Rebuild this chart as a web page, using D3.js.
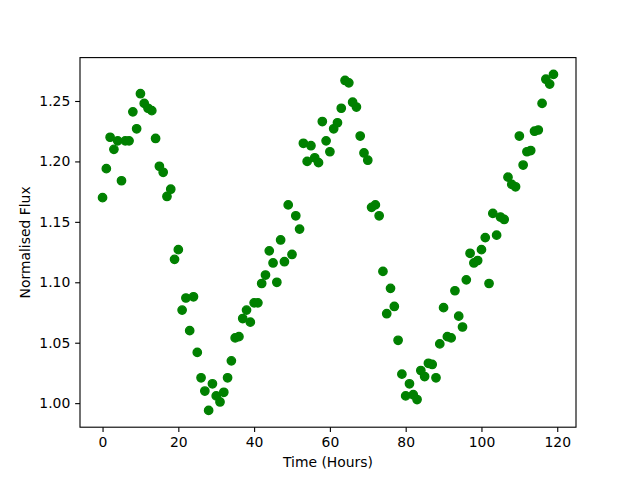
<!DOCTYPE html>
<meta charset="utf-8">
<script src="https://d3js.org/d3.v7.min.js"></script>
<style>
  body { margin: 0; background: #fff; }
  text { font-family: "DejaVu Sans", sans-serif; }
</style>
<div id="chart"></div>
<script>
// flux readings, one per hour (0..119)
const flux = [
  1.170, 1.194, 1.220, 1.210, 1.217, 1.184, 1.217, 1.217, 1.241, 1.227,
  1.256, 1.248, 1.244, 1.242, 1.219, 1.196, 1.191, 1.171, 1.177, 1.119,
  1.127, 1.077, 1.087, 1.060, 1.088, 1.042, 1.021, 1.010, 0.994, 1.016,
  1.006, 1.001, 1.009, 1.021, 1.035, 1.054, 1.055, 1.070, 1.077, 1.067,
  1.083, 1.083, 1.099, 1.106, 1.126, 1.116, 1.100, 1.135, 1.117, 1.164,
  1.123, 1.155, 1.144, 1.215, 1.200, 1.213, 1.203, 1.199, 1.233, 1.217,
  1.208, 1.227, 1.232, 1.244, 1.267, 1.265, 1.249, 1.245, 1.221, 1.207,
  1.201, 1.162, 1.164, 1.155, 1.109, 1.074, 1.095, 1.080, 1.052, 1.024,
  1.006, 1.016, 1.007, 1.003, 1.027, 1.022, 1.033, 1.032, 1.021, 1.049,
  1.079, 1.055, 1.054, 1.093, 1.072, 1.063, 1.102, 1.124, 1.116, 1.118,
  1.127, 1.137, 1.099, 1.157, 1.139, 1.154, 1.152, 1.187, 1.181, 1.179,
  1.221, 1.197, 1.208, 1.209, 1.225, 1.226, 1.248, 1.268, 1.264, 1.272
];
const hours = flux.map((d, i) => i);
const xTicks = [0, 20, 40, 60, 80, 100, 120];
const yTicks = [1.00, 1.05, 1.10, 1.15, 1.20, 1.25];

const margin = {top: 57.6, right: 64, bottom: 52.8, left: 80},
    width = 640 - margin.left - margin.right,
    height = 480 - margin.top - margin.bottom;

const svg = d3.select("#chart")
  .append("svg")
    .attr("width", 640)
    .attr("height", 480)
  .append("g")
    .attr("transform", `translate(${margin.left},${margin.top})`);

// matplotlib-style 5% padding
const xMin = d3.min(hours), xMax = d3.max(hours), xPad = (xMax - xMin) * 0.05;
const yMin = d3.min(flux), yMax = d3.max(flux), yPad = (yMax - yMin) * 0.05;

const x = d3.scaleLinear()
  .domain([xMin - xPad, xMax + xPad])
  .range([0, width]);
const y = d3.scaleLinear()
  .domain([yMin - yPad, yMax + yPad])
  .range([height, 0]);

// points
svg.append("g")
  .selectAll("circle")
  .data(flux)
  .join("circle")
    .attr("cx", (d, i) => x(hours[i]))
    .attr("cy", d => y(d))
    .attr("r", 4.17)
    .attr("fill", "#008000")
    .attr("stroke", "#008000")
    .attr("stroke-width", 1.39);

// axes
const xAxis = svg.append("g")
  .attr("transform", `translate(0,${height})`)
  .call(d3.axisBottom(x).tickValues(xTicks).tickSize(4.86).tickPadding(4.86).tickSizeOuter(0));
const yAxis = svg.append("g")
  .call(d3.axisLeft(y).tickValues(yTicks).tickFormat(d3.format(".2f")).tickSize(4.86).tickPadding(4.86).tickSizeOuter(0));

[xAxis, yAxis].forEach(a => {
  a.selectAll("text").attr("font-family", "DejaVu Sans").attr("font-size", "13.9px").attr("fill", "#000");
  a.selectAll("line").attr("stroke", "#000").attr("stroke-width", 1.11);
  a.select(".domain").remove();
});

// frame
svg.append("rect")
  .attr("width", width)
  .attr("height", height)
  .attr("fill", "none")
  .attr("stroke", "#000")
  .attr("stroke-width", 1.11);

// labels
svg.append("text")
  .attr("x", width / 2)
  .attr("y", height + 40)
  .attr("text-anchor", "middle")
  .attr("font-size", "13.9px")
  .text("Time (Hours)");

svg.append("text")
  .attr("transform", `translate(-50,${height / 2}) rotate(-90)`)
  .attr("text-anchor", "middle")
  .attr("font-size", "13.9px")
  .text("Normalised Flux");
</script>
